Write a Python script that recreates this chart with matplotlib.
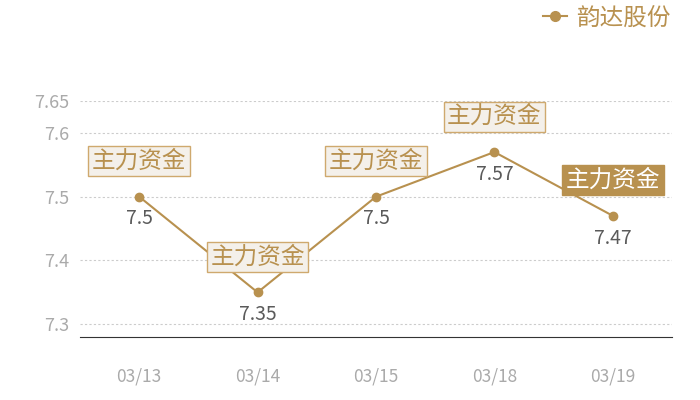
import matplotlib
matplotlib.use("Agg")
import matplotlib.pyplot as plt
from matplotlib.lines import Line2D

plt.rcParams['font.family'] = ['Noto Sans CJK SC', 'DejaVu Sans']

categories = ["03/13", "03/14", "03/15", "03/18", "03/19"]
values = [7.5, 7.35, 7.5, 7.57, 7.47]
series_name = "韵达股份"
box_label = "主力资金"
yticks = [7.3, 7.4, 7.5, 7.6, 7.65]

gold = "#b8914f"
fig = plt.figure(figsize=(7, 4), dpi=100)
ax = fig.add_axes([80/700, 1-337/400, 592/700, 236/400])

x = list(range(len(categories)))
ax.plot(x, values, color=gold, lw=1.5, marker='o', ms=6, zorder=3)
ax.set_xlim(-0.5, len(categories)-0.5)
ax.set_ylim(7.28, 7.65)
ax.set_yticks(yticks)
ax.set_yticklabels([f"{v:g}" for v in yticks])
ax.set_xticks(x)
ax.set_xticklabels(categories)
ax.tick_params(axis='both', length=0, colors="#aaaaaa", labelsize=12.5)
ax.tick_params(axis='x', pad=22)
ax.tick_params(axis='y', pad=8, labelsize=13)
for s in ['top', 'right', 'left']:
    ax.spines[s].set_visible(False)
ax.spines['bottom'].set_color('#333333')
ax.grid(axis='y', linestyle=(0, (2, 2)), color='#cccccc', lw=0.8)
ax.set_axisbelow(True)

for i, v in enumerate(values):
    ax.annotate(f"{v:g}", (i, v), xytext=(0, -16), textcoords='offset points',
                ha='center', va='center', fontsize=14, color='#5a5a5a')
    last = (i == len(values) - 1)
    ax.annotate(box_label, (i, v), xytext=(0, 25.5), textcoords='offset points',
                ha='center', va='center', fontsize=17,
                color='white' if last else gold, zorder=5,
                bbox=dict(boxstyle='square,pad=0.15',
                          fc=gold if last else '#f4f0ea',
                          ec=gold if last else '#cfa96e', lw=1))

handle = Line2D([], [], color=gold, marker='o', ms=7, lw=1.5)
fig.legend([handle], [series_name], loc='center right', bbox_to_anchor=(0.975, 0.955),
           frameon=False, fontsize=17, labelcolor=gold, handlelength=1.0,
           handletextpad=0.4, borderpad=0)

fig.savefig("out.png", dpi=100)
